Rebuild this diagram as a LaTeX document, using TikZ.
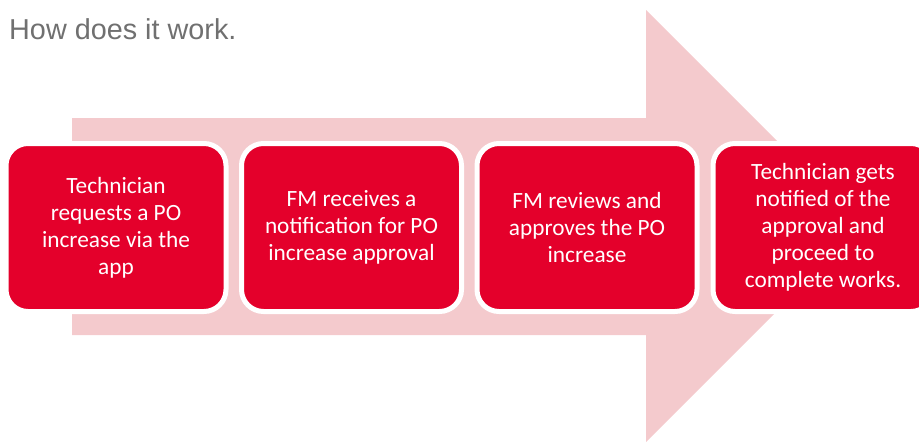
\documentclass[tikz,border=0pt]{standalone}
\usepackage{fontspec}
\setmainfont{Carlito}
\newfontfamily\titlefont{Liberation Sans}
\definecolor{boxred}{HTML}{E4002B}
\definecolor{arrowpink}{HTML}{F4CACD}
\definecolor{titlegray}{HTML}{707070}
\begin{document}
\begin{tikzpicture}[x=1pt,y=-1pt,
  stepbox/.style={draw=white,line width=5pt,fill=boxred,rounded corners=22pt,
    minimum width=220pt,minimum height=168pt,align=center,
    text=white,font=\fontsize{23.3}{27}\selectfont,inner sep=0pt}]
\useasboundingbox (0,0) rectangle (919,442);
\fill[arrowpink] (72,118) -- (646,118) -- (646,10) -- (862,226) -- (646,442) -- (646,335) -- (72,335) -- cycle;
\node[anchor=west,text=titlegray,font=\titlefont\fontsize{28.8}{33}\selectfont,inner sep=0pt] (title) at (9,29) {How does it work.};
\begin{scope}
\clip (0,0) rectangle (919,442);
\node[stepbox] (s1) at (116,227.5) {Technician\\requests a PO\\increase via the\\app};
\node[stepbox] (s2) at (351.5,227.5) {FM receives a\\notification for PO\\increase approval};
\node[stepbox] (s3) at (587,227.5) {FM reviews and\\approves the PO\\increase};
\node[stepbox] (s4) at (823,227.5) {Technician gets\\notified of the\\approval and\\proceed to\\complete works.};
\end{scope}
\end{tikzpicture}
\end{document}
